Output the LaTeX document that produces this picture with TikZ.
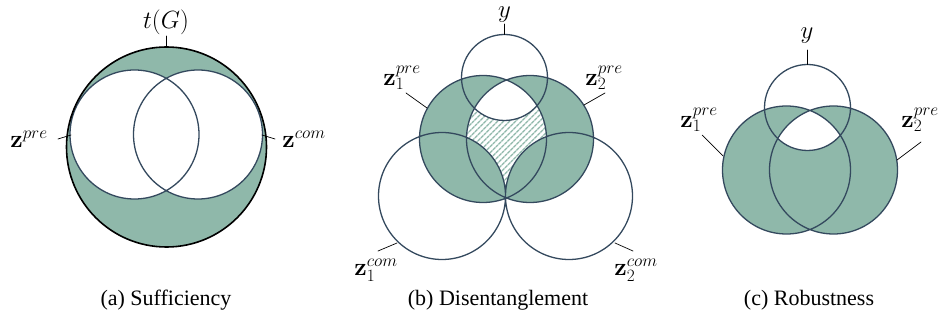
\documentclass[tikz,border=0pt]{standalone}
\usepackage[no-math]{fontspec}
\setmainfont{Liberation Serif}
\newfontfamily\capfont{Liberation Serif}
\usetikzlibrary{patterns.meta}
\definecolor{venngreen}{HTML}{8FB8AA}
\definecolor{vennline}{HTML}{34495E}
\tikzset{
  venn/.style={draw=vennline, line width=1.3pt},
  tick/.style={draw=black, line width=0.7pt},
  lab/.style={font=\fontsize{24}{28}\selectfont, inner sep=0pt},
  captxt/.style={font=\capfont\fontsize{22}{26}\selectfont, inner sep=0pt, anchor=base},
}
\begin{document}
\begin{tikzpicture}[x=1pt, y=-1pt, line cap=round, line join=round]
\useasboundingbox (0,0) rectangle (941,320);
% (a) sufficiency
\def\rt{100} \def\ra{64.5}
\coordinate (tg) at (166.5,147);
\coordinate (zp) at (134.5,134.5);
\coordinate (zc) at (198,134.5);
\fill[venngreen] (tg) circle[radius=\rt];
\fill[white] (zp) circle[radius=\ra] (zc) circle[radius=\ra];
\draw[venn] (zp) circle[radius=\ra] (zc) circle[radius=\ra];
\draw[black, line width=1.6pt] (tg) circle[radius=\rt];
\node[lab] (tG) at (166,22) {$t(G)$};
\node[lab] (zpre) at (29,139) {$\mathbf{z}^{pre}$};
\node[lab] (zcom) at (304,139) {$\mathbf{z}^{com}$};
\coordinate (tGa) at (166.5,36); \coordinate (tGb) at (166.5,47);
\coordinate (zpa) at (58,139); \coordinate (zpb) at (71,135);
\coordinate (zca) at (262,135); \coordinate (zcb) at (275,139);
\draw[tick] (tGa) -- (tGb) (zpa) -- (zpb) (zca) -- (zcb);
\node[captxt] (capA) at (166,305) {(a) Sufficiency};
% (b) disentanglement
\def\ry{43} \def\rb{63.5}
\coordinate (y) at (504.5,77.5);
\coordinate (p1) at (483,139);
\coordinate (p2) at (530,139);
\coordinate (c1) at (442,196);
\coordinate (c2) at (569,196);
\fill[venngreen] (p1) circle[radius=\rb] (p2) circle[radius=\rb];
\begin{scope}
  \clip (p1) circle[radius=\rb];
  \clip (p2) circle[radius=\rb];
  \fill[white] (400,60) rectangle (620,220);
  \fill[pattern={Lines[angle=45, distance=4pt, line width=1.5pt]}, pattern color=venngreen] (400,60) rectangle (620,220);
  \fill[venngreen] (c1) circle[radius=\rb] (c2) circle[radius=\rb];
  \fill[white] (y) circle[radius=\ry];
\end{scope}
\draw[venn] (y) circle[radius=\ry] (p1) circle[radius=\rb] (p2) circle[radius=\rb]
  (c1) circle[radius=\rb] (c2) circle[radius=\rb];
\node[lab] (yb) at (504.5,15) {$y$};
\node[lab] (p1l) at (402,78) {$\mathbf{z}_1^{pre}$};
\node[lab] (p2l) at (604,78) {$\mathbf{z}_2^{pre}$};
\node[lab] (c1l) at (376,270) {$\mathbf{z}_1^{com}$};
\node[lab] (c2l) at (636,270) {$\mathbf{z}_2^{com}$};
\coordinate (yba) at (504.5,24); \coordinate (ybb) at (504.5,34.5);
\coordinate (p1a) at (406,93); \coordinate (p1b) at (427,108);
\coordinate (p2a) at (605,93); \coordinate (p2b) at (584,105);
\coordinate (c1a) at (378,251); \coordinate (c1b) at (397,243);
\coordinate (c2a) at (615,243); \coordinate (c2b) at (633,251);
\draw[tick] (yba) -- (ybb) (p1a) -- (p1b) (p2a) -- (p2b) (c1a) -- (c1b) (c2a) -- (c2b);
\node[captxt] (capB) at (498,305) {(b) Disentanglement};
% (c) robustness
\def\rc{64}
\coordinate (yc) at (807.5,107.5);
\coordinate (q1) at (786.5,170);
\coordinate (q2) at (833.5,170);
\fill[venngreen] (q1) circle[radius=\rc] (q2) circle[radius=\rc];
\begin{scope}
  \clip (q1) circle[radius=\rc];
  \clip (q2) circle[radius=\rc];
  \fill[white] (yc) circle[radius=\ry];
\end{scope}
\draw[venn] (yc) circle[radius=\ry] (q1) circle[radius=\rc] (q2) circle[radius=\rc];
\node[lab] (ycl) at (807,36) {$y$};
\node[lab] (q1l) at (699,120) {$\mathbf{z}_1^{pre}$};
\node[lab] (q2l) at (920,120) {$\mathbf{z}_2^{pre}$};
\coordinate (yca) at (807.5,50); \coordinate (ycb) at (807.5,64.5);
\coordinate (q1a) at (702,135); \coordinate (q1b) at (723,156);
\coordinate (q2a) at (921,142); \coordinate (q2b) at (897,160);
\draw[tick] (yca) -- (ycb) (q1a) -- (q1b) (q2a) -- (q2b);
\node[captxt] (capC) at (809,305) {(c) Robustness};
\end{tikzpicture}
\end{document}
